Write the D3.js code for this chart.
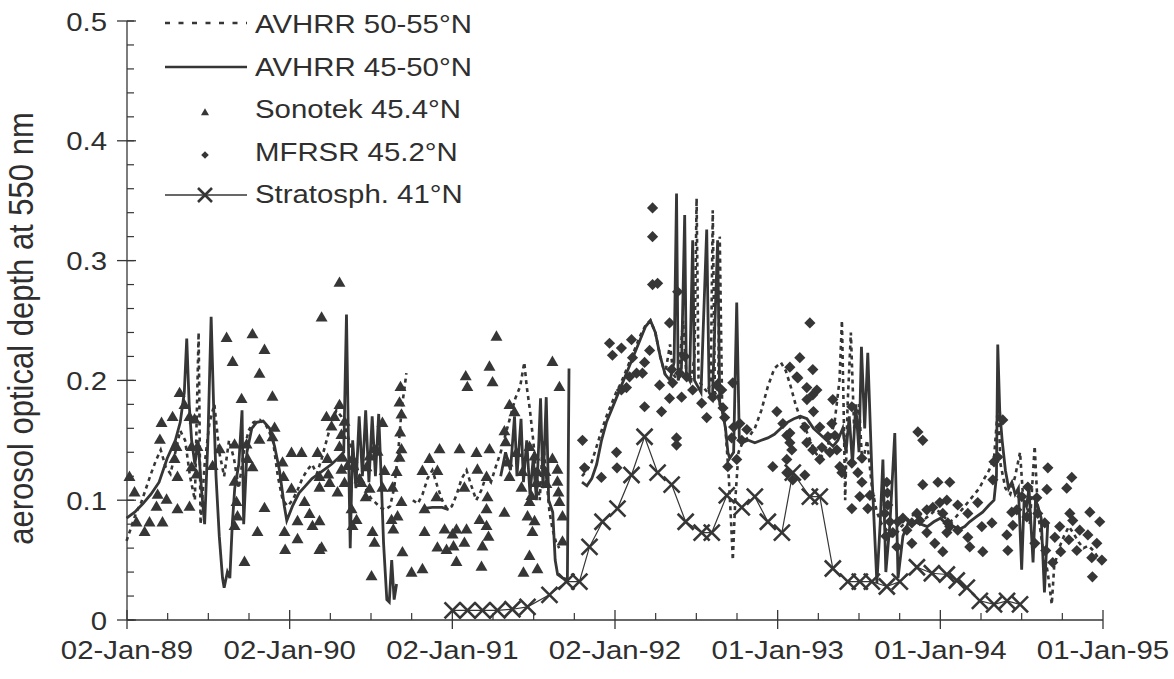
<!DOCTYPE html>
<html>
<head>
<meta charset="utf-8">
<script src="https://cdn.jsdelivr.net/npm/d3@7/dist/d3.min.js"></script>
<style>
  html, body { margin: 0; padding: 0; background: #fff; }
  svg { display: block; }
  text { font-family: "Liberation Sans", Arial, Helvetica, sans-serif; fill: #2f2f2f; }
</style>
</head>
<body>
<svg id="chart" width="1174" height="679"></svg>
<script>
// ---- data (dates as decimal years, values = aerosol optical depth at 550 nm) ----
const xTickLabels = ["02-Jan-89", "02-Jan-90", "02-Jan-91", "02-Jan-92", "01-Jan-93", "01-Jan-94", "01-Jan-95"];
const yTickLabels = ["0", "0.1", "0.2", "0.3", "0.4", "0.5"];
const seriesNames = ["AVHRR 50-55°N", "AVHRR 45-50°N", "Sonotek 45.4°N", "MFRSR 45.2°N", "Stratosph. 41°N"];

// AVHRR 50-55°N (dotted); null marks a gap in the record
const avhrr5055 = [
  [1989.00,0.066],[1989.03,0.078],[1989.06,0.090],[1989.09,0.098],[1989.12,0.110],[1989.15,0.122],
  [1989.18,0.133],[1989.21,0.142],[1989.24,0.128],[1989.27,0.122],[1989.30,0.140],[1989.33,0.158],
  [1989.36,0.150],[1989.39,0.120],[1989.42,0.100],[1989.443,0.240],[1989.455,0.080],[1989.48,0.130],
  [1989.51,0.165],[1989.54,0.180],[1989.57,0.140],[1989.60,0.120],[1989.63,0.150],[1989.66,0.135],
  [1989.69,0.110],[1989.72,0.140],[1989.75,0.158],[1989.78,0.165],[1989.82,0.167],[1989.86,0.162],
  [1989.90,0.150],[1989.93,0.120],[1989.96,0.100],[1989.99,0.095],[1990.02,0.100],[1990.05,0.108],
  [1990.08,0.118],[1990.11,0.125],[1990.14,0.130],[1990.17,0.122],[1990.20,0.135],[1990.23,0.150],
  [1990.26,0.165],[1990.29,0.175],[1990.32,0.170],[1990.35,0.158],[1990.38,0.145],[1990.41,0.130],
  [1990.44,0.118],[1990.47,0.110],[1990.50,0.102],[1990.53,0.098],[1990.56,0.094],[1990.59,0.092],
  [1990.62,0.095],[1990.645,0.110],[1990.67,0.140],[1990.69,0.175],[1990.71,0.195],[1990.72,0.206],
  [1990.74,null],
  [1990.76,0.100],[1990.79,0.097],[1990.82,0.105],[1990.85,0.118],[1990.88,0.125],[1990.91,0.112],
  [1990.94,0.100],[1990.97,0.093],[1991.00,0.095],[1991.03,0.105],[1991.06,0.118],[1991.09,0.125],
  [1991.12,0.112],[1991.15,0.100],[1991.18,0.108],[1991.21,0.120],[1991.24,0.115],[1991.27,0.128],
  [1991.30,0.140],[1991.33,0.155],[1991.36,0.170],[1991.39,0.185],[1991.42,0.195],[1991.445,0.215],
  [1991.46,0.195],[1991.48,0.175],[1991.50,0.150],[1991.52,0.120],[1991.54,0.100],[1991.56,0.150],
  [1991.58,0.120],[1991.60,0.090],[1991.62,0.075],[1991.64,0.065],[1991.66,0.060],
  [1991.73,null],
  [1991.80,0.120],[1991.83,0.125],[1991.86,0.132],[1991.89,0.145],[1991.92,0.158],[1991.95,0.170],
  [1991.98,0.180],[1992.01,0.190],[1992.04,0.198],[1992.07,0.208],[1992.10,0.218],[1992.13,0.228],
  [1992.16,0.238],[1992.19,0.246],[1992.22,0.250],[1992.25,0.240],[1992.28,0.220],[1992.31,0.205],
  [1992.34,0.230],[1992.36,0.205],[1992.39,0.200],[1992.42,0.250],[1992.44,0.205],[1992.47,0.200],
  [1992.49,0.220],[1992.503,0.352],[1992.515,0.200],[1992.54,0.195],[1992.57,0.190],[1992.59,0.200],
  [1992.602,0.342],[1992.615,0.190],[1992.635,0.185],[1992.645,0.320],[1992.66,0.175],[1992.68,0.160],
  [1992.70,0.120],[1992.715,0.080],[1992.725,0.050],[1992.74,0.100],[1992.76,0.140],[1992.79,0.150],
  [1992.82,0.152],[1992.86,0.160],[1992.90,0.175],[1992.94,0.195],[1992.98,0.210],[1993.02,0.215],
  [1993.05,0.208],[1993.08,0.195],[1993.11,0.180],[1993.14,0.168],[1993.17,0.160],[1993.20,0.150],
  [1993.23,0.140],[1993.26,0.135],[1993.29,0.140],[1993.32,0.150],[1993.35,0.165],[1993.38,0.200],
  [1993.395,0.250],[1993.405,0.180],[1993.415,0.100],[1993.43,0.180],[1993.45,0.240],[1993.47,0.160],
  [1993.50,0.180],[1993.52,0.130],[1993.55,0.150],[1993.58,0.110],[1993.61,0.090],[1993.64,0.080],
  [1993.67,0.075],[1993.70,0.070],[1993.73,0.072],[1993.76,0.078],[1993.79,0.082],[1993.82,0.086],
  [1993.85,0.090],[1993.88,0.088],[1993.91,0.085],[1993.94,0.088],[1993.97,0.092],[1994.00,0.090],
  [1994.03,0.085],[1994.06,0.082],[1994.09,0.085],[1994.12,0.090],[1994.15,0.095],[1994.18,0.100],
  [1994.21,0.105],[1994.24,0.110],[1994.27,0.118],[1994.30,0.125],[1994.33,0.135],[1994.355,0.180],
  [1994.37,0.130],[1994.40,0.110],[1994.43,0.105],[1994.46,0.120],[1994.49,0.140],[1994.51,0.100],
  [1994.53,0.100],[1994.55,0.080],[1994.58,0.145],[1994.60,0.090],[1994.63,0.060],[1994.66,0.040],
  [1994.685,0.013],[1994.70,0.045],[1994.73,0.060],[1994.76,0.070],[1994.79,0.078],[1994.82,0.072],
  [1994.85,0.065],[1994.88,0.060],[1994.91,0.062],[1994.94,0.058],[1994.97,0.052],[1995.00,0.048]
];

// AVHRR 45-50°N (solid)
const avhrr4550 = [
  [1989.00,0.085],[1989.05,0.090],[1989.10,0.097],[1989.15,0.105],[1989.20,0.115],[1989.25,0.135],
  [1989.30,0.150],[1989.33,0.165],[1989.355,0.190],[1989.37,0.235],[1989.385,0.180],[1989.40,0.150],
  [1989.42,0.130],[1989.44,0.150],[1989.46,0.110],[1989.48,0.080],[1989.50,0.150],[1989.52,0.253],
  [1989.535,0.180],[1989.55,0.120],[1989.57,0.070],[1989.59,0.035],[1989.60,0.027],[1989.62,0.040],
  [1989.635,0.035],[1989.65,0.080],[1989.665,0.110],[1989.69,0.130],[1989.71,0.175],[1989.72,0.080],
  [1989.74,0.140],[1989.77,0.160],[1989.80,0.165],[1989.84,0.166],[1989.88,0.160],[1989.91,0.145],
  [1989.94,0.125],[1989.97,0.095],[1989.985,0.083],[1990.02,0.095],[1990.06,0.106],[1990.10,0.112],
  [1990.14,0.118],[1990.18,0.122],[1990.22,0.126],[1990.26,0.130],[1990.30,0.135],[1990.335,0.140],
  [1990.352,0.255],[1990.365,0.140],[1990.375,0.060],[1990.39,0.150],[1990.41,0.110],[1990.43,0.170],
  [1990.45,0.120],[1990.47,0.175],[1990.49,0.115],[1990.51,0.170],[1990.53,0.120],[1990.55,0.172],
  [1990.565,0.120],[1990.58,0.064],[1990.60,0.017],[1990.615,0.015],[1990.63,0.050],[1990.645,0.017],
  [1990.66,0.030],
  [1990.75,null],
  [1990.82,0.093],[1990.88,0.094],[1990.94,0.094],[1990.98,0.092],
  [1991.10,null],
  [1991.30,0.120],[1991.33,0.140],[1991.36,0.125],[1991.385,0.170],[1991.40,0.120],[1991.425,0.168],
  [1991.44,0.115],[1991.46,0.150],[1991.48,0.105],[1991.50,0.135],[1991.52,0.100],[1991.545,0.185],
  [1991.56,0.110],[1991.58,0.186],[1991.595,0.100],[1991.62,0.090],[1991.635,0.050],[1991.65,0.038],
  [1991.68,0.035],[1991.71,0.034],[1991.72,0.210],
  [1991.76,null],
  [1991.80,0.115],[1991.83,0.112],[1991.86,0.118],[1991.89,0.130],[1991.92,0.150],[1991.95,0.165],
  [1991.98,0.175],[1992.01,0.185],[1992.04,0.195],[1992.07,0.205],[1992.10,0.215],[1992.13,0.225],
  [1992.16,0.235],[1992.19,0.245],[1992.22,0.250],[1992.25,0.240],[1992.28,0.220],[1992.31,0.205],
  [1992.34,0.200],[1992.365,0.215],[1992.38,0.356],[1992.39,0.200],[1992.41,0.210],[1992.43,0.338],
  [1992.44,0.205],[1992.46,0.200],[1992.479,0.317],[1992.49,0.200],[1992.51,0.195],[1992.53,0.190],
  [1992.565,0.326],[1992.58,0.190],[1992.60,0.185],[1992.632,0.317],[1992.645,0.180],[1992.66,0.175],
  [1992.68,0.160],[1992.695,0.140],[1992.706,0.135],[1992.73,0.140],[1992.749,0.265],[1992.765,0.150],
  [1992.78,0.148],[1992.82,0.150],[1992.86,0.148],[1992.90,0.150],[1992.94,0.152],[1992.98,0.155],
  [1993.02,0.160],[1993.06,0.165],[1993.10,0.168],[1993.14,0.170],[1993.18,0.168],[1993.22,0.160],
  [1993.26,0.155],[1993.30,0.150],[1993.34,0.145],[1993.37,0.150],[1993.40,0.160],[1993.42,0.140],
  [1993.44,0.170],[1993.46,0.130],[1993.48,0.180],[1993.50,0.140],[1993.515,0.228],[1993.535,0.160],
  [1993.554,0.223],[1993.58,0.120],[1993.61,0.031],[1993.63,0.080],[1993.647,0.134],[1993.665,0.040],
  [1993.69,0.080],[1993.72,0.156],[1993.74,0.035],[1993.77,0.070],[1993.80,0.080],[1993.84,0.082],
  [1993.88,0.080],[1993.92,0.078],[1993.96,0.082],[1994.00,0.085],[1994.04,0.080],[1994.08,0.078],
  [1994.12,0.076],[1994.15,0.078],[1994.18,0.082],[1994.22,0.086],[1994.26,0.090],[1994.30,0.096],
  [1994.33,0.100],[1994.345,0.120],[1994.353,0.230],[1994.365,0.175],[1994.38,0.150],[1994.40,0.125],
  [1994.42,0.110],[1994.44,0.115],[1994.46,0.105],[1994.48,0.110],[1994.50,0.042],[1994.515,0.100],
  [1994.53,0.095],[1994.545,0.110],[1994.57,0.048],[1994.585,0.100],[1994.60,0.095],[1994.62,0.085],
  [1994.64,0.023],[1994.66,0.080]
];

// Sonotek sun photometer, 45.4°N (triangles)
const sonotek = [
  [1989.018,0.119],[1989.049,0.106],[1989.061,0.081],[1989.111,0.073],[1989.141,0.081],[1989.221,0.081],
  [1989.191,0.104],[1989.184,0.094],[1989.246,0.100],[1989.215,0.164],[1989.205,0.150],[1989.283,0.169],
  [1989.307,0.144],[1989.295,0.134],[1989.313,0.119],[1989.326,0.189],[1989.356,0.179],[1989.387,0.169],
  [1989.418,0.167],[1989.400,0.127],[1989.430,0.121],[1989.387,0.094],[1989.313,0.092],[1989.615,0.235],
  [1989.652,0.215],[1989.774,0.238],[1989.848,0.225],[1989.817,0.205],[1989.897,0.186],[1989.707,0.184],
  [1989.664,0.146],[1989.738,0.146],[1989.744,0.134],[1989.774,0.127],[1989.664,0.115],[1989.676,0.098],
  [1989.682,0.086],[1989.664,0.078],[1989.725,0.048],[1989.805,0.073],[1989.848,0.093],[1989.817,0.150],
  [1989.897,0.152],[1989.910,0.160],[1989.959,0.131],[1989.965,0.119],[1990.014,0.139],[1989.971,0.073],
  [1989.975,0.058],[1989.400,0.144],[1989.436,0.144],[1989.572,0.142],[1989.529,0.128],
  [1990.051,0.067],[1990.076,0.139],[1990.125,0.088],[1990.174,0.139],[1990.186,0.119],[1990.186,0.082],
  [1990.186,0.058],[1990.235,0.134],[1990.240,0.121],[1990.143,0.078],[1990.278,0.169],[1990.309,0.179],
  [1990.340,0.165],[1990.321,0.154],[1990.328,0.135],[1990.358,0.128],[1990.297,0.106],[1990.199,0.252],
  [1990.309,0.281],[1990.389,0.134],[1990.414,0.083],[1990.432,0.117],[1990.475,0.127],[1990.494,0.109],
  [1990.512,0.073],[1990.524,0.064],[1990.506,0.036],[1990.470,0.102],[1990.543,0.140],[1990.573,0.164],
  [1990.586,0.124],[1990.573,0.110],[1990.629,0.083],[1990.635,0.110],[1990.660,0.123],[1990.678,0.135],
  [1990.682,0.156],[1990.690,0.171],[1990.684,0.194],[1990.640,0.075],[1990.752,0.039],[1990.819,0.042],
  [1990.819,0.124],[1990.862,0.134],[1990.832,0.073],[1990.905,0.102],[1990.911,0.124],[1990.924,0.142],
  [1990.955,0.075],[1990.967,0.058],[1990.094,0.098],[1990.051,0.082],[1990.199,0.060],[1990.014,0.109],
  [1990.186,0.110],[1990.248,0.114],[1990.229,0.169],[1990.260,0.161],[1990.309,0.144],[1990.321,0.125],
  [1990.340,0.114],[1990.383,0.092],[1990.389,0.078],[1990.444,0.114],[1990.494,0.136],[1990.524,0.142],
  [1990.666,0.086],[1990.690,0.098],[1990.690,0.142],[1990.678,0.181],[1990.696,0.056],[1990.832,0.092],
  [1990.911,0.060],
  [1991.004,0.071],[1991.028,0.048],[1991.047,0.142],[1991.077,0.064],[1991.090,0.075],[1991.085,0.203],
  [1991.095,0.194],[1991.151,0.139],[1991.157,0.125],[1991.170,0.083],[1991.182,0.044],[1991.213,0.119],
  [1991.219,0.102],[1991.225,0.069],[1991.231,0.211],[1991.250,0.198],[1991.274,0.236],[1991.231,0.142],
  [1991.010,0.061],[1991.077,0.110],[1991.028,0.075],[1991.213,0.078],[1991.188,0.061],[1991.213,0.092],
  [1991.323,0.157],[1991.330,0.148],[1991.397,0.139],[1991.342,0.131],[1991.434,0.123],[1991.354,0.119],
  [1991.428,0.110],[1991.489,0.103],[1991.477,0.098],[1991.323,0.089],[1991.465,0.086],[1991.508,0.082],
  [1991.495,0.073],[1991.477,0.053],[1991.526,0.042],[1991.440,0.039],[1991.354,0.179],[1991.385,0.173],
  [1991.477,0.144],[1991.508,0.136],[1991.618,0.215],[1991.661,0.194],[1991.618,0.134],[1991.649,0.115],
  [1991.655,0.106],[1991.661,0.098],[1991.680,0.086],[1991.680,0.065],[1991.526,0.123],[1991.520,0.114],
  [1991.581,0.113],[1991.649,0.125],[1991.575,0.123]
];

// MFRSR, 45.2°N (diamonds)
const mfrsr = [
  [1991.803,0.150],[1991.815,0.127],[1991.919,0.119],[1991.969,0.231],[1991.987,0.221],[1992.042,0.227],
  [1992.104,0.234],[1992.110,0.219],[1992.012,0.140],[1992.015,0.127],[1992.042,0.192],[1992.073,0.194],
  [1992.092,0.203],[1992.135,0.206],[1992.171,0.206],[1992.184,0.215],[1992.184,0.178],[1992.215,0.225],
  [1992.233,0.280],[1992.264,0.281],[1992.233,0.320],[1992.233,0.344],[1992.276,0.196],[1992.288,0.174],
  [1992.337,0.248],[1992.337,0.185],[1992.356,0.198],[1992.350,0.209],[1992.380,0.152],[1992.380,0.146],
  [1992.387,0.274],[1992.399,0.206],[1992.430,0.220],[1992.411,0.186],[1992.442,0.203],[1992.479,0.192],
  [1992.534,0.181],[1992.565,0.169],[1992.602,0.186],[1992.626,0.196],[1992.657,0.192],[1992.725,0.198],
  [1992.665,0.177],[1992.675,0.169],[1992.730,0.161],[1992.718,0.152],[1992.768,0.164],[1992.780,0.150],
  [1992.749,0.134],[1992.694,0.128],[1992.811,0.159],
  [1992.995,0.174],[1993.032,0.164],[1993.056,0.154],[1993.075,0.148],[1993.136,0.219],[1993.198,0.248],
  [1993.216,0.209],[1993.118,0.203],[1993.179,0.194],[1993.241,0.192],[1993.220,0.174],[1993.259,0.161],
  [1993.333,0.164],[1993.309,0.153],[1993.364,0.142],[1993.179,0.148],[1993.216,0.142],[1993.259,0.134],
  [1992.970,0.128],[1993.056,0.134],[1993.075,0.211],[1993.124,0.202],[1993.216,0.188],[1993.180,0.184],
  [1993.339,0.184],[1993.456,0.178],[1993.075,0.156],[1993.167,0.161],[1993.087,0.142],[1993.272,0.144],
  [1993.352,0.154],[1993.321,0.140],[1993.395,0.123],[1993.456,0.131],[1993.493,0.123],[1993.518,0.135],
  [1993.518,0.115],[1993.456,0.093],[1993.505,0.103],[1993.554,0.093],[1993.567,0.104],[1993.056,0.123],
  [1993.093,0.117],[1993.167,0.121],[1993.382,0.128],
  [1993.671,0.115],[1993.675,0.106],[1993.677,0.096],[1993.659,0.089],[1993.690,0.082],[1993.708,0.073],
  [1993.739,0.082],[1993.770,0.085],[1993.794,0.075],[1993.825,0.081],[1993.856,0.089],[1993.874,0.083],
  [1993.917,0.092],[1993.954,0.094],[1993.997,0.098],[1994.040,0.100],[1994.015,0.089],[1993.862,0.157],
  [1993.892,0.150],[1993.892,0.113],[1993.985,0.115],[1994.058,0.115],[1993.665,0.070],[1993.733,0.061],
  [1993.825,0.064],[1993.917,0.073],[1994.015,0.057],[1993.966,0.064],[1994.040,0.073],[1994.058,0.078],
  [1994.107,0.096],[1994.169,0.089],[1994.230,0.098],[1994.046,0.081],[1994.107,0.075],[1994.169,0.069],
  [1994.255,0.078],[1994.317,0.081],[1994.323,0.117],[1994.330,0.132],[1994.384,0.167],[1994.353,0.136],
  [1994.439,0.090],[1994.409,0.071],[1994.446,0.079],[1994.470,0.092],[1994.501,0.103],[1994.538,0.111],
  [1994.593,0.102],[1994.661,0.127],[1994.655,0.109],[1994.599,0.089],[1994.642,0.081],[1994.704,0.069],
  [1994.734,0.078],[1994.777,0.110],[1994.808,0.119],[1994.796,0.089],[1994.814,0.083],[1994.857,0.075],
  [1994.919,0.090],[1994.980,0.082],[1994.907,0.071],[1994.962,0.064],[1994.790,0.067],[1994.740,0.057],
  [1994.839,0.058],[1994.931,0.052],[1994.993,0.050],[1994.935,0.036],[1994.581,0.064],[1994.648,0.058],
  [1994.691,0.048],[1994.181,0.061],[1994.261,0.057],[1994.415,0.058],[1994.532,0.086]
];

// Stratospheric aerosol, 41°N (line with crosses)
const strat = [
  [1991.004,0.008],[1991.096,0.008],[1991.188,0.008],[1991.280,0.008],[1991.372,0.009],[1991.465,0.011],
  [1991.600,0.021],[1991.704,0.032],[1991.784,0.032],[1991.846,0.061],[1991.926,0.082],[1992.018,0.093],
  [1992.104,0.121],[1992.184,0.153],[1992.264,0.123],[1992.350,0.113],[1992.436,0.082],[1992.534,0.073],
  [1992.596,0.073],[1992.688,0.104],[1992.780,0.094],[1992.860,0.103],[1992.940,0.082],[1993.026,0.073],
  [1993.093,0.123],[1993.198,0.103],[1993.259,0.103],[1993.339,0.043],[1993.431,0.032],[1993.505,0.032],
  [1993.579,0.032],[1993.671,0.028],[1993.751,0.032],[1993.856,0.044],[1993.948,0.039],[1994.040,0.038],
  [1994.101,0.033],[1994.163,0.027],[1994.243,0.016],[1994.330,0.013],[1994.410,0.016],[1994.490,0.013]
];

// ---- drawing ----
const ink = "#363636";
const svg = d3.select("#chart");
const margin = { left: 127, right: 71, top: 21, bottom: 59 };
const W = +svg.attr("width"), H = +svg.attr("height");
svg.append("rect").attr("width", W).attr("height", H).attr("fill", "#fff");

const parseTick = d3.timeParse("%d-%b-%y");
const xTicks = xTickLabels.map(parseTick);
const x = d3.scaleTime()
  .domain([xTicks[0], xTicks[xTicks.length - 1]])
  .range([margin.left, W - margin.right]);
const y = d3.scaleLinear()
  .domain([0, 0.5])
  .range([H - margin.bottom, margin.top]);

function toDate(t) {
  const yr = Math.floor(t);
  const a = new Date(yr, 0, 1), b = new Date(yr + 1, 0, 1);
  return new Date(+a + (t - yr) * (b - a));
}

const sx = 1.13;      // horizontal stretch of the lettering
const fs = 26;        // base font size

// y axis
const yAxisG = svg.append("g");
yAxisG.append("line")
  .attr("x1", x.range()[0]).attr("x2", x.range()[0])
  .attr("y1", y(0)).attr("y2", y(0.5))
  .attr("stroke", ink).attr("stroke-width", 1.3);
const yMinor = d3.range(0, 0.5001, 0.02);
yAxisG.selectAll("line.ymin").data(yMinor).join("line")
  .attr("x1", x.range()[0]).attr("x2", x.range()[0] + 7)
  .attr("y1", d => y(d)).attr("y2", d => y(d))
  .attr("stroke", ink).attr("stroke-width", 1.2);
const yMajor = yTickLabels.map(Number);
yAxisG.selectAll("line.ymaj").data(yMajor).join("line")
  .attr("x1", x.range()[0] - 10).attr("x2", x.range()[0] + 9)
  .attr("y1", d => y(d)).attr("y2", d => y(d))
  .attr("stroke", ink).attr("stroke-width", 1.3);
yAxisG.selectAll("g.ylab").data(yTickLabels).join("g")
  .attr("transform", d => `translate(${x.range()[0] - 20},${y(+d) + 9.5}) scale(${sx},1)`)
  .append("text")
  .attr("text-anchor", "end")
  .attr("font-size", fs)
  .text(d => d);

// x axis
const xAxisG = svg.append("g");
xAxisG.append("line")
  .attr("x1", x.range()[0]).attr("x2", x.range()[1])
  .attr("y1", y(0)).attr("y2", y(0))
  .attr("stroke", ink).attr("stroke-width", 1.3);
const xMinor = [];
for (let i = 0; i < xTicks.length - 1; i++) {
  for (let q = 1; q < 4; q++) xMinor.push(new Date(+xTicks[i] + q * (xTicks[i + 1] - xTicks[i]) / 4));
}
xAxisG.selectAll("line.xmin").data(xMinor).join("line")
  .attr("x1", d => x(d)).attr("x2", d => x(d))
  .attr("y1", y(0)).attr("y2", y(0) - 7)
  .attr("stroke", ink).attr("stroke-width", 1.2);
xAxisG.selectAll("line.xmaj").data(xTicks).join("line")
  .attr("x1", d => x(d)).attr("x2", d => x(d))
  .attr("y1", y(0) - 10).attr("y2", y(0) + 9)
  .attr("stroke", ink).attr("stroke-width", 1.3);
xAxisG.selectAll("g.xlab").data(xTickLabels).join("g")
  .attr("transform", (d, i) => `translate(${x(xTicks[i])},${y(0) + 39}) scale(${sx},1)`)
  .append("text")
  .attr("text-anchor", "middle")
  .attr("font-size", fs)
  .text(d => d);

// y axis title
svg.append("g")
  .attr("transform", `translate(33,${(y(0) + y(0.5)) / 2 + 8}) scale(${sx},1) rotate(-90)`)
  .append("text")
  .attr("text-anchor", "middle")
  .attr("font-size", 31)
  .text("aerosol optical depth at 550 nm");

// plotting helpers
const lineGen = d3.line()
  .defined(d => d[1] != null)
  .x(d => x(toDate(d[0])))
  .y(d => y(d[1]));
const tri = d3.symbol().type(d3.symbolTriangle).size(62);
const diamondPath = r => `M0,${-r}L${r},0L0,${r}L${-r},0Z`;
function cross(g, s) {
  g.append("path")
    .attr("d", `M${-s},${-s}L${s},${s}M${-s},${s}L${s},${-s}`)
    .attr("stroke", ink).attr("stroke-width", 2.6).attr("fill", "none");
}

const plot = svg.append("g");

// AVHRR 50-55°N
plot.append("path").datum(avhrr5055)
  .attr("d", lineGen)
  .attr("fill", "none").attr("stroke", ink)
  .attr("stroke-width", 2.6).attr("stroke-dasharray", "4,4");

// AVHRR 45-50°N
plot.append("path").datum(avhrr4550)
  .attr("d", lineGen)
  .attr("fill", "none").attr("stroke", ink)
  .attr("stroke-width", 2.8).attr("stroke-linejoin", "miter");

// Sonotek
plot.selectAll("path.tri").data(sonotek).join("path")
  .attr("class", "tri")
  .attr("d", tri)
  .attr("transform", d => `translate(${x(toDate(d[0]))},${y(d[1])})`)
  .attr("fill", ink);

// MFRSR
plot.selectAll("path.dia").data(mfrsr).join("path")
  .attr("class", "dia")
  .attr("d", diamondPath(5.6))
  .attr("transform", d => `translate(${x(toDate(d[0]))},${y(d[1])})`)
  .attr("fill", ink);

// Stratospheric
plot.append("path").datum(strat)
  .attr("d", lineGen)
  .attr("fill", "none").attr("stroke", ink).attr("stroke-width", 1.2);
plot.selectAll("g.cross").data(strat).join("g")
  .attr("class", "cross")
  .attr("transform", d => `translate(${x(toDate(d[0]))},${y(d[1])})`)
  .each(function () { cross(d3.select(this), 8); });

// legend
const legend = svg.append("g");
const legRows = [23, 66, 108, 151, 193];
const lx0 = 165, lx1 = 247, ltx = 255;
seriesNames.forEach((name, i) => {
  const row = legend.append("g");
  const ly = legRows[i];
  if (i === 0) {
    row.append("line").attr("x1", lx0).attr("x2", lx1).attr("y1", ly).attr("y2", ly)
      .attr("stroke", ink).attr("stroke-width", 2.4).attr("stroke-dasharray", "5,8.5");
  } else if (i === 1) {
    row.append("line").attr("x1", lx0).attr("x2", lx1).attr("y1", ly + 1).attr("y2", ly + 1)
      .attr("stroke", ink).attr("stroke-width", 2.6);
  } else if (i === 2) {
    row.append("path").attr("d", d3.symbol().type(d3.symbolTriangle).size(28))
      .attr("transform", `translate(${(lx0 + lx1) / 2 - 1},${ly + 5})`).attr("fill", ink);
  } else if (i === 3) {
    row.append("path").attr("d", diamondPath(3.8))
      .attr("transform", `translate(${(lx0 + lx1) / 2 - 1},${ly + 4})`).attr("fill", ink);
  } else {
    row.append("line").attr("x1", lx0).attr("x2", lx1).attr("y1", ly + 2).attr("y2", ly + 2)
      .attr("stroke", ink).attr("stroke-width", 1.3);
    const c = row.append("g").attr("transform", `translate(${(lx0 + lx1) / 2 - 1},${ly + 2})`);
    cross(c, 7);
  }
  row.append("g")
    .attr("transform", `translate(${ltx},${ly + 9.5}) scale(${sx},1)`)
    .append("text").attr("font-size", fs).text(name);
});
</script>
</body>
</html>
